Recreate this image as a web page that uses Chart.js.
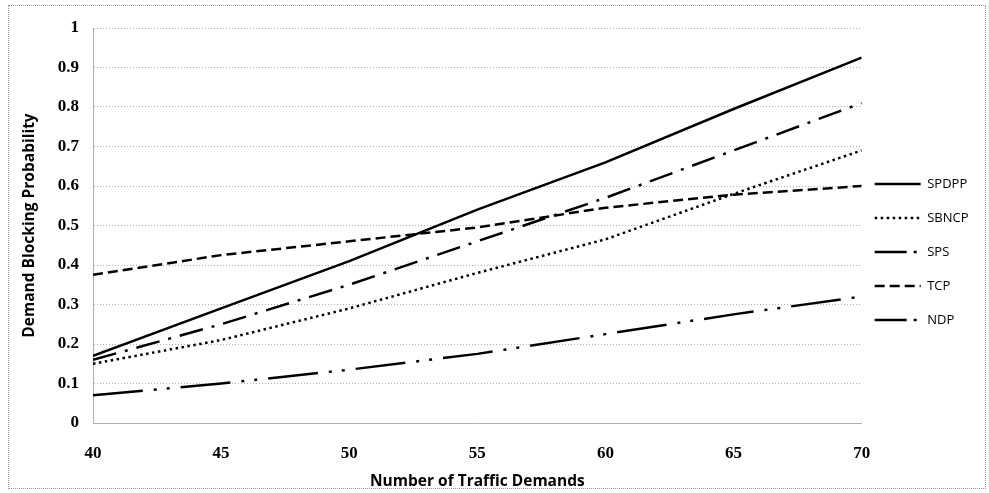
<!DOCTYPE html>
<html>
<head>
<meta charset="utf-8">
<script src="https://cdn.jsdelivr.net/npm/chart.js@4.4.0/dist/chart.umd.min.js"></script>
<style>
  html, body { margin: 0; padding: 0; background: #fff; }
  #wrap { position: relative; width: 989px; height: 493px; }
  #frame { position: absolute; left: 8px; top: 5px; width: 978px; height: 484px; border: 1px dotted #999; box-sizing: border-box; pointer-events: none; }
</style>
</head>
<body>
<div id="wrap">
  <canvas id="chart" width="989" height="493"></canvas>
  <div id="frame"></div>
</div>
<script>
const demands = [40, 45, 50, 55, 60, 65, 70];
const yTicks = [0, 0.1, 0.2, 0.3, 0.4, 0.5, 0.6, 0.7, 0.8, 0.9, 1];

const spdpp = [0.17, 0.29, 0.41, 0.54, 0.66, 0.795, 0.925];
const sbncp = [0.15, 0.21, 0.29, 0.38, 0.465, 0.58, 0.69];
const sps = [0.16, 0.25, 0.35, 0.46, 0.57, 0.69, 0.81];
const tcp = [0.375, 0.425, 0.46, 0.495, 0.545, 0.578, 0.60];
const ndp = [0.07, 0.10, 0.135, 0.175, 0.225, 0.275, 0.32];

const toPoints = vals => vals.map((v, i) => ({ x: demands[i], y: v }));

function series(label, vals, dash, legendDash) {
  return {
    label,
    data: toPoints(vals),
    borderColor: '#000',
    backgroundColor: '#000',
    borderWidth: 2.5,
    borderDash: dash,
    legendDash: legendDash || dash,
    pointRadius: 0,
    tension: 0,
    fill: false
  };
}

const gridColor = '#b0b0b0';
const tickFont = { family: 'Liberation Serif', size: 17, weight: 'bold' };
const titleFont = { family: 'Open Sans', size: 15.5, weight: 'bold' };

// legend padding also sets the gap to the plot, so nudge the legend left a bit
const legendShift = {
  id: 'legendShift',
  afterLayout: chart => {
    chart.legend.left -= 8;
    chart.legend.right -= 8;
  }
};

new Chart(document.getElementById('chart'), {
  type: 'line',
  data: {
    datasets: [
      series('SPDPP', spdpp, []),
      series('SBNCP', sbncp, [2.5, 3.5]),
      series('SPS', sps, [24, 9, 3, 9], [32, 7, 3, 7]),
      series('TCP', tcp, [10, 5]),
      series('NDP', ndp, [50, 11, 3, 10, 3, 11], [32, 7, 3, 7])
    ]
  },
  plugins: [legendShift],
  options: {
    responsive: false,
    animation: false,
    layout: { padding: { left: 13, top: 28, right: 2.5, bottom: 17 } },
    plugins: {
      tooltip: { enabled: false },
      legend: {
        position: 'right',
        labels: {
          usePointStyle: true,
          pointStyle: 'line',
          pointStyleWidth: 46,
          padding: 21,
          color: '#000',
          font: { family: 'Open Sans', size: 13 },
          generateLabels: chart =>
            Chart.defaults.plugins.legend.labels.generateLabels(chart).map(item => ({
              ...item,
              lineDash: chart.data.datasets[item.datasetIndex].legendDash,
              lineWidth: 2.5,
              strokeStyle: '#000'
            }))
        }
      }
    },
    scales: {
      x: {
        type: 'linear',
        min: 40,
        max: 70,
        afterBuildTicks: axis => { axis.ticks = demands.map(v => ({ value: v })); },
        afterFit: scale => { scale.height = 53; },
        grid: { display: false, drawTicks: false },
        border: { display: true, color: gridColor, dash: [1, 2] },
        ticks: { padding: 20, color: '#000', font: tickFont },
        title: {
          display: true,
          text: 'Number of Traffic Demands',
          color: '#000',
          padding: { top: 0, bottom: -15 },
          font: titleFont
        }
      },
      y: {
        min: 0,
        max: 1,
        afterBuildTicks: axis => { axis.ticks = yTicks.map(v => ({ value: v })); },
        afterFit: scale => { scale.width = 80; },
        grid: { color: gridColor, borderDash: [1, 2], drawTicks: false, lineWidth: 1 },
        border: { display: true, color: gridColor, dash: [1, 2] },
        ticks: { padding: 14, color: '#000', font: tickFont, callback: v => String(v) },
        title: {
          display: true,
          text: 'Demand Blocking Probability',
          color: '#000',
          padding: { top: 7, bottom: 0 },
          font: titleFont
        }
      }
    }
  }
});
</script>
</body>
</html>
